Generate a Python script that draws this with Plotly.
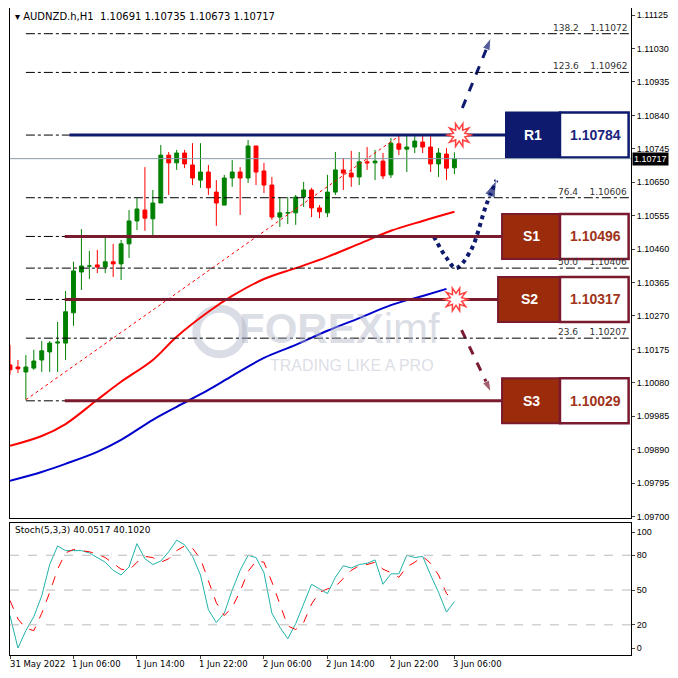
import numpy as np
import plotly.graph_objects as go

# ---- hourly candles AUDNZD H1, 31 May 22:00 -> 3 Jun 06:00
opens = [1.10131, 1.10125, 1.10111, 1.10122, 1.10145, 1.10168, 1.10193, 1.10193, 1.10279, 1.10395,
         1.10412, 1.10415, 1.10409, 1.10424, 1.10418, 1.10475, 1.10540, 1.10571, 1.10546, 1.10591,
         1.10727, 1.10705, 1.10733, 1.10699, 1.10656, 1.10679, 1.10622, 1.10585, 1.10662, 1.10679,
         1.10662, 1.10753, 1.10682, 1.10642, 1.10551, 1.10563, 1.10563, 1.10608, 1.10628, 1.10577,
         1.10563, 1.10622, 1.10685, 1.10676, 1.10665, 1.10708, 1.10705, 1.10710, 1.10671, 1.10759,
         1.10744, 1.10750, 1.10764, 1.10750, 1.10702, 1.10730, 1.10691]
highs = [1.10188, 1.10145, 1.10159, 1.10174, 1.10199, 1.10199, 1.10253, 1.10341, 1.10424, 1.10517,
         1.10455, 1.10458, 1.10497, 1.10475, 1.10486, 1.10571, 1.10605, 1.10693, 1.10628, 1.10756,
         1.10736, 1.10742, 1.10742, 1.10761, 1.10761, 1.10699, 1.10656, 1.10671, 1.10713, 1.10693,
         1.10770, 1.10753, 1.10705, 1.10665, 1.10608, 1.10608, 1.10614, 1.10651, 1.10634, 1.10585,
         1.10671, 1.10736, 1.10719, 1.10739, 1.10736, 1.10750, 1.10742, 1.10733, 1.10776, 1.10781,
         1.10784, 1.10784, 1.10784, 1.10781, 1.10747, 1.10747, 1.10735]
lows = [1.10103, 1.10108, 1.10032, 1.10117, 1.10111, 1.10111, 1.10111, 1.10145, 1.10242, 1.10344,
        1.10375, 1.10392, 1.10392, 1.10381, 1.10372, 1.10435, 1.10514, 1.10512, 1.10500, 1.10591,
        1.10614, 1.10685, 1.10690, 1.10642, 1.10634, 1.10614, 1.10526, 1.10585, 1.10637, 1.10557,
        1.10648, 1.10642, 1.10619, 1.10543, 1.10523, 1.10531, 1.10529, 1.10580, 1.10551, 1.10548,
        1.10551, 1.10614, 1.10628, 1.10637, 1.10642, 1.10685, 1.10656, 1.10659, 1.10662, 1.10727,
        1.10679, 1.10733, 1.10733, 1.10679, 1.10665, 1.10656, 1.10673]
closes = [1.10117, 1.10120, 1.10125, 1.10142, 1.10171, 1.10193, 1.10196, 1.10282, 1.10398, 1.10412,
          1.10412, 1.10409, 1.10424, 1.10418, 1.10475, 1.10540, 1.10574, 1.10548, 1.10591, 1.10727,
          1.10705, 1.10733, 1.10702, 1.10662, 1.10679, 1.10634, 1.10591, 1.10662, 1.10679, 1.10662,
          1.10753, 1.10679, 1.10642, 1.10551, 1.10563, 1.10563, 1.10608, 1.10628, 1.10577, 1.10566,
          1.10622, 1.10685, 1.10676, 1.10665, 1.10708, 1.10705, 1.10710, 1.10668, 1.10761, 1.10744,
          1.10750, 1.10767, 1.10750, 1.10702, 1.10733, 1.10690, 1.10717]
bars = list(range(len(closes)))

# moving averages (read at sample bars)
ma_bars = [0, 4, 7, 11, 14, 18, 21, 25, 28, 32, 36, 40, 44, 48, 52, 56]
ma_red = [1.09901, 1.09929, 1.09963, 1.10032, 1.10083, 1.10145, 1.10211, 1.10282, 1.10327, 1.10375,
          1.10406, 1.10438, 1.10475, 1.10512, 1.10540, 1.10566]
ma_blue_bars = [0, 4, 7, 11, 14, 18, 21, 25, 28, 32, 36, 40, 44, 48, 52, 55]
ma_blue = [1.09802, 1.09827, 1.09850, 1.09884, 1.09918, 1.09975, 1.10012, 1.10060, 1.10100, 1.10151,
           1.10188, 1.10228, 1.10264, 1.10301, 1.10327, 1.10347]

stoch_k = [28, 0, 15, 27, 45, 72, 88, 84, 84, 84, 82, 78, 74, 67, 63, 70, 90, 77, 72, 75,
           83, 93, 89, 79, 63, 33, 22, 30, 50, 67, 80, 78, 65, 30, 18, 8, 21, 38, 55, 51,
           47, 61, 71, 69, 72, 73, 76, 55, 64, 64, 80, 78, 79, 63, 48, 31, 40.05]
stoch_d = [41, 25, 17, 15, 30, 48, 68, 82, 85, 84, 83, 81, 78, 73, 68, 67, 74, 79, 78, 74,
           77, 84, 88, 86, 77, 58, 39, 28, 35, 49, 66, 75, 74, 57, 37, 19, 16, 22, 38, 48,
           51, 53, 60, 67, 71, 72, 74, 68, 65, 61, 70, 74, 79, 73, 63, 47, 40.10]

fib_pct = ["138.2", "123.6", "76.4", "50.0", "23.6"]
fib_lvl = [1.11072, 1.10962, 1.10606, 1.10406, 1.10207]
sr_names = ["R1", "S1", "S2", "S3"]
sr_lvl = [1.10784, 1.10496, 1.10317, 1.10029]

price_ticks = [1.11125, 1.11030, 1.10935, 1.10840, 1.10745, 1.10650, 1.10555, 1.10460, 1.10365,
               1.10270, 1.10175, 1.10080, 1.09985, 1.09890, 1.09795, 1.09700]
time_ticks = [0, 8, 16, 24, 32, 40, 48, 56]
time_labels = ["31 May 2022", "1 Jun 06:00", "1 Jun 14:00", "1 Jun 22:00", "2 Jun 06:00",
               "2 Jun 14:00", "2 Jun 22:00", "3 Jun 06:00"]
last_price = 1.10717

XMAX = 78.25
NAVY = "#0d1a6e"
MAROON = "#7a1a2e"
BRICK = "#9a2c0b"
PX_PER_PRICE = 35227.0  # used for starburst shape only
PX_PER_BAR = 8.0
WM = "rgba(175,180,200,0.45)"

fig = go.Figure()

fig.add_trace(go.Candlestick(x=bars, open=opens, high=highs, low=lows, close=closes,
                             increasing=dict(line=dict(color="#008000", width=1), fillcolor="#008000"),
                             decreasing=dict(line=dict(color="#ff0000", width=1), fillcolor="#ff0000"),
                             whiskerwidth=0, showlegend=False, hoverinfo="skip"))

fig.add_trace(go.Scatter(x=ma_bars, y=ma_red, mode="lines", line=dict(color="#ff0000", width=2, shape="spline"),
                         showlegend=False))
fig.add_trace(go.Scatter(x=ma_blue_bars, y=ma_blue, mode="lines", line=dict(color="#0000cc", width=2, shape="spline"),
                         showlegend=False))

# fibo base line
fig.add_trace(go.Scatter(x=[2, 49], y=[lows[2], highs[49]], mode="lines",
                         line=dict(color="#ff0000", width=1, dash="dot"), showlegend=False))

shapes = []
annots = []
# fib dash-dot lines
for lv in fib_lvl + sr_lvl:
    shapes.append(dict(type="line", xref="x", yref="y", x0=2, x1=XMAX, y0=lv, y1=lv,
                       line=dict(color="black", width=1, dash="dashdot")))
for p, lv in zip(fib_pct, fib_lvl):
    annots.append(dict(xref="x", yref="y", x=XMAX - 0.3, y=lv, xanchor="right", yanchor="bottom",
                       text=f"{p}&nbsp;&nbsp;&nbsp;&nbsp;{lv:.5f}", showarrow=False,
                       font=dict(size=9, color="#333"), yshift=-1))

# support/resistance lines + boxes
box_x0 = [62.5, 62.0, 61.5, 62.0]
line_x0 = [7.5, 6.9, 6.9, 6.9]
half_h = 0.00064
for name, lv, bx, lx in zip(sr_names, sr_lvl, box_x0, line_x0):
    col = NAVY if name == "R1" else MAROON
    fill = NAVY if name == "R1" else BRICK
    txt = "#1a237e" if name == "R1" else "#a0341a"
    shapes.append(dict(type="line", xref="x", yref="y", x0=lx, x1=bx, y0=lv, y1=lv,
                       line=dict(color=col, width=3)))
    shapes.append(dict(type="rect", xref="x", yref="y", x0=bx, x1=69.3, y0=lv - half_h, y1=lv + half_h,
                       fillcolor=fill, line=dict(color=col, width=2)))
    shapes.append(dict(type="rect", xref="x", yref="y", x0=69.3, x1=XMAX - 0.3, y0=lv - half_h, y1=lv + half_h,
                       fillcolor="white", line=dict(color=col, width=2.5)))
    annots.append(dict(xref="x", yref="y", x=(bx + 69.3) / 2, y=lv, text=f"<b>{name}</b>", showarrow=False,
                       font=dict(size=14, color="white", family="Liberation Sans")))
    annots.append(dict(xref="x", yref="y", x=(69.3 + XMAX) / 2, y=lv, text=f"<b>{lv:.5f}</b>", showarrow=False,
                       font=dict(size=14, color=txt, family="Liberation Sans")))

# current price line
shapes.append(dict(type="line", xref="x", yref="y", x0=0, x1=XMAX, y0=last_price, y1=last_price,
                   line=dict(color="#8a9aaa", width=1)))
annots.append(dict(xref="paper", yref="y", x=1, y=last_price, xanchor="left", text="1.10717",
                   showarrow=False, bgcolor="black", font=dict(size=9, color="white", family="Liberation Sans"),
                   borderpad=1, xshift=1))

# scenario arrows
fig.add_trace(go.Scatter(x=[57.0, 60.6], y=[1.10861, 1.11060], mode="lines+markers",
                         line=dict(color=NAVY, width=3, dash="dash"),
                         marker=dict(symbol="arrow", size=[0, 13], angleref="previous", color=NAVY),
                         showlegend=False))
fig.add_trace(go.Scatter(x=[53.4, 55.0, 56.2, 58.1, 60.0, 61.3], y=[1.10496, 1.10435, 1.10406, 1.10458, 1.10585, 1.10656],
                         mode="lines+markers", line=dict(color=NAVY, width=4, dash="dot", shape="spline"),
                         marker=dict(symbol="arrow", size=[0, 0, 0, 0, 0, 18], angleref="previous", color=NAVY),
                         showlegend=False))
fig.add_trace(go.Scatter(x=[56.9, 60.6], y=[1.10230, 1.10054], mode="lines+markers",
                         line=dict(color=MAROON, width=3, dash="dash"),
                         marker=dict(symbol="arrow", size=[0, 12], angleref="previous", color=MAROON),
                         showlegend=False))

# starbursts
def star(cx, cy, r1=12, r2=6, n=10):
    ang = np.linspace(0, 2 * np.pi, 2 * n + 1)
    rad = np.where(np.arange(2 * n + 1) % 2 == 0, r1, r2)
    xs = cx + rad * np.cos(ang) / PX_PER_BAR
    ys = cy + rad * np.sin(ang) / PX_PER_PRICE
    return "M" + " L".join(f"{a},{b}" for a, b in zip(xs, ys)) + " Z"

for cx, cy in [(56.6, 1.10784), (56.2, 1.10317)]:
    shapes.append(dict(type="path", xref="x", yref="y", path=star(cx, cy),
                       fillcolor="white", line=dict(color="#ff4040", width=1.5)))

# watermark
shapes.append(dict(type="circle", xref="paper", yref="paper", x0=0.30, x1=0.375, y0=0.465, y1=0.535,
                   line=dict(color=WM, width=8), layer="below"))
annots.append(dict(xref="paper", yref="paper", x=0.53, y=0.505, text="<b>FOREX</b>imf", showarrow=False,
                   font=dict(size=42, color=WM, family="Liberation Sans")))
annots.append(dict(xref="paper", yref="paper", x=0.55, y=0.447, text="TRADING LIKE A PRO", showarrow=False,
                   font=dict(size=16, color=WM, family="Liberation Sans")))

# stochastic
fig.add_trace(go.Scatter(x=bars, y=stoch_k, mode="lines", line=dict(color="#20b2aa", width=1),
                         xaxis="x2", yaxis="y2", showlegend=False))
fig.add_trace(go.Scatter(x=bars, y=stoch_d, mode="lines", line=dict(color="#ff0000", width=1, dash="dash"),
                         xaxis="x2", yaxis="y2", showlegend=False))
for lv in [20, 50, 80]:
    shapes.append(dict(type="line", xref="x2 domain", yref="y2", x0=0, x1=1, y0=lv, y1=lv,
                       line=dict(color="#bbbbbb", width=1, dash="dash")))

annots.append(dict(xref="paper", yref="paper", x=0.005, y=1.0, xanchor="left", yanchor="top", yshift=-1,
                   text="▾ AUDNZD.h,H1  1.10691 1.10735 1.10673 1.10717", showarrow=False,
                   font=dict(size=10, color="black")))
annots.append(dict(xref="paper", yref="paper", x=0.005, y=0.204, xanchor="left", yanchor="top",
                   text="Stoch(5,3,3) 40.0517 40.1020", showarrow=False, font=dict(size=9, color="black")))
for tv, tl in zip(time_ticks, time_labels):
    annots.append(dict(xref="x2", yref="paper", x=tv, y=0, xanchor="left", yanchor="top",
                       xshift=-2 if tv == 0 else -3, yshift=-2,
                       text=tl, showarrow=False, font=dict(size=8.5, color="black")))

axfont = dict(size=9, color="black", family="Liberation Sans")
fig.update_layout(
    width=670, height=670, margin=dict(l=2, r=47, t=0, b=23),
    plot_bgcolor="white", paper_bgcolor="white",
    xaxis=dict(domain=[0, 1], range=[0, XMAX], showgrid=False, zeroline=False, showticklabels=False,
               rangeslider=dict(visible=False), showline=True, mirror=True, linecolor="black", anchor="y"),
    yaxis=dict(domain=[0.2117, 1], range=[1.09696, 1.11145], side="right", tickvals=price_ticks,
               ticktext=[f"{v:.5f}" for v in price_ticks], tickfont=axfont, showgrid=False, zeroline=False,
               showline=True, mirror=True, linecolor="black", ticks="outside", ticklen=3),
    xaxis2=dict(domain=[0, 1], range=[0, XMAX], anchor="y2", showgrid=False, zeroline=False,
                showticklabels=False, tickvals=time_ticks, ticks="outside", ticklen=3,
                showline=True, mirror=True, linecolor="black"),
    yaxis2=dict(domain=[0, 0.204], range=[-6, 107.8], side="right", tickvals=[0, 20, 50, 80, 100],
                tickfont=axfont, showgrid=False, zeroline=False, showline=True, mirror=True,
                linecolor="black", ticks="outside", ticklen=3),
    shapes=shapes, annotations=annots, font=dict(family="DejaVu Sans"),
)

fig.write_html("out.html")
